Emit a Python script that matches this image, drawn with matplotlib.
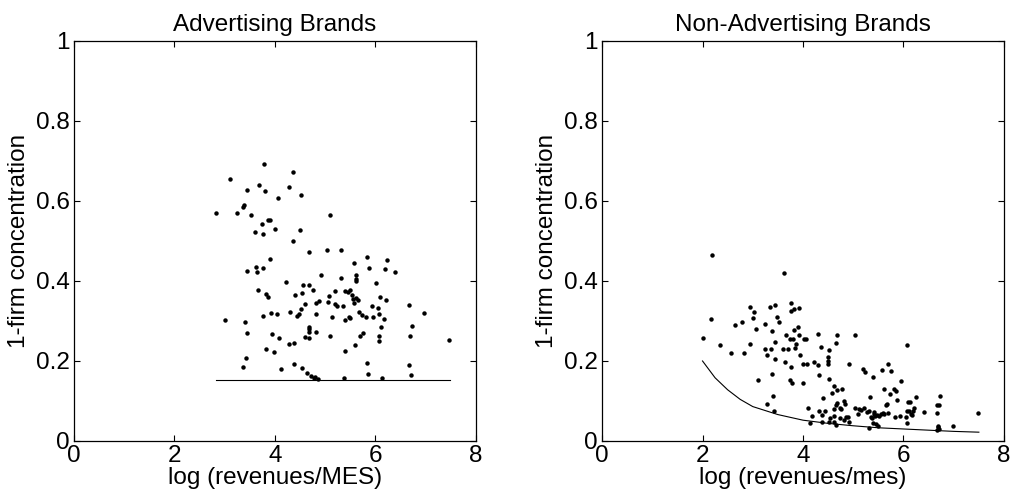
import numpy as np
import matplotlib
matplotlib.use("Agg")
import matplotlib.pyplot as plt

plt.rcParams['font.family'] = ['Liberation Sans', 'DejaVu Sans']

# advertising brands: log(revenues/MES) vs 1-firm concentration
adv_x = [2.83, 3.00, 3.10, 3.24, 3.36, 3.38, 3.36, 3.40, 3.42, 3.44, 3.45, 3.45, 3.52, 3.60,
         3.62, 3.64, 3.67, 3.69, 3.74, 3.77, 3.77, 3.77, 3.78, 3.80, 3.82, 3.83, 3.86, 3.86,
         3.90, 3.91, 3.92, 3.95, 3.99, 4.01, 4.05, 4.07, 4.09, 4.13, 4.23, 4.29, 4.29, 4.30,
         4.35, 4.36, 4.37, 4.38, 4.40, 4.44, 4.48, 4.50, 4.52, 4.52, 4.53, 4.54, 4.56, 4.60,
         4.60, 4.63, 4.68, 4.68, 4.68, 4.68, 4.68, 4.68, 4.72, 4.75, 4.77, 4.80, 4.82, 4.82,
         4.82, 4.85, 4.87, 4.91, 5.03, 5.05, 5.08, 5.09, 5.09, 5.14, 5.19, 5.20, 5.23, 5.31,
         5.32, 5.36, 5.37, 5.39, 5.39, 5.39, 5.45, 5.47, 5.49, 5.50, 5.54, 5.55, 5.57, 5.57,
         5.59, 5.61, 5.61, 5.62, 5.62, 5.66, 5.68, 5.70, 5.73, 5.75, 5.81, 5.83, 5.84, 5.86,
         5.88, 5.94, 5.95, 6.02, 6.06, 6.07, 6.08, 6.08, 6.10, 6.11, 6.14, 6.18, 6.20, 6.21,
         6.24, 6.39, 6.66, 6.67, 6.69, 6.71, 6.73, 6.97, 7.47]
adv_y = [0.571, 0.303, 0.656, 0.571, 0.584, 0.590, 0.186, 0.297, 0.207, 0.424, 0.628, 0.271,
         0.564, 0.522, 0.436, 0.423, 0.377, 0.640, 0.542, 0.518, 0.432, 0.313, 0.692, 0.624,
         0.367, 0.229, 0.361, 0.553, 0.553, 0.455, 0.320, 0.267, 0.222, 0.531, 0.317, 0.608,
         0.257, 0.180, 0.397, 0.636, 0.242, 0.322, 0.673, 0.500, 0.246, 0.192, 0.364, 0.313,
         0.317, 0.527, 0.616, 0.331, 0.370, 0.183, 0.389, 0.342, 0.261, 0.169, 0.472, 0.391,
         0.285, 0.279, 0.272, 0.258, 0.163, 0.377, 0.157, 0.160, 0.344, 0.318, 0.273, 0.155,
         0.349, 0.414, 0.477, 0.347, 0.363, 0.565, 0.263, 0.311, 0.374, 0.343, 0.337, 0.408,
         0.478, 0.338, 0.157, 0.376, 0.302, 0.226, 0.372, 0.311, 0.307, 0.377, 0.365, 0.355,
         0.445, 0.344, 0.240, 0.415, 0.357, 0.404, 0.399, 0.352, 0.322, 0.263, 0.315, 0.270,
         0.311, 0.461, 0.195, 0.167, 0.432, 0.337, 0.310, 0.395, 0.333, 0.317, 0.263, 0.250,
         0.360, 0.286, 0.157, 0.304, 0.431, 0.352, 0.452, 0.422, 0.341, 0.190, 0.263, 0.166,
         0.288, 0.320, 0.252]

# flat lower bound for advertising brands
adv_bound_x = [2.83, 7.48]
adv_bound_y = [0.152, 0.152]

# non-advertising brands
non_x = [2.00, 2.16, 2.18, 2.35, 2.57, 2.65, 2.78, 2.83, 2.94, 2.94, 3.01, 3.02, 3.06, 3.11,
         3.24, 3.25, 3.28, 3.29, 3.35, 3.36, 3.38, 3.38, 3.40, 3.42, 3.44, 3.45, 3.45, 3.48,
         3.53, 3.61, 3.62, 3.64, 3.67, 3.70, 3.74, 3.74, 3.77, 3.77, 3.77, 3.78, 3.81, 3.83,
         3.83, 3.85, 3.87, 3.91, 3.92, 3.92, 3.95, 3.99, 4.00, 4.01, 4.06, 4.07, 4.09, 4.13,
         4.17, 4.22, 4.29, 4.29, 4.31, 4.32, 4.36, 4.38, 4.38, 4.39, 4.44, 4.50, 4.50, 4.50,
         4.51, 4.52, 4.52, 4.53, 4.57, 4.61, 4.61, 4.62, 4.62, 4.66, 4.66, 4.66, 4.68, 4.68,
         4.68, 4.73, 4.73, 4.75, 4.78, 4.81, 4.82, 4.83, 4.85, 4.89, 4.91, 4.91, 5.03, 5.04,
         5.09, 5.12, 5.15, 5.19, 5.21, 5.24, 5.27, 5.31, 5.31, 5.33, 5.35, 5.37, 5.39, 5.39,
         5.41, 5.41, 5.44, 5.45, 5.47, 5.49, 5.52, 5.55, 5.57, 5.59, 5.61, 5.62, 5.65, 5.67,
         5.69, 5.70, 5.73, 5.76, 5.82, 5.84, 5.85, 5.88, 5.93, 5.95, 6.04, 6.06, 6.07, 6.07,
         6.08, 6.10, 6.12, 6.14, 6.17, 6.19, 6.21, 6.24, 6.40, 6.66, 6.67, 6.68, 6.68, 6.70,
         6.70, 6.67, 6.73, 6.98, 7.48]
non_y = [0.257, 0.304, 0.466, 0.240, 0.219, 0.291, 0.297, 0.220, 0.336, 0.242, 0.308, 0.322,
         0.280, 0.152, 0.292, 0.229, 0.214, 0.092, 0.334, 0.229, 0.275, 0.168, 0.113, 0.075,
         0.339, 0.247, 0.204, 0.310, 0.298, 0.230, 0.419, 0.197, 0.265, 0.230, 0.254, 0.152,
         0.344, 0.324, 0.186, 0.146, 0.254, 0.330, 0.278, 0.232, 0.242, 0.284, 0.333, 0.265,
         0.215, 0.192, 0.146, 0.254, 0.256, 0.192, 0.082, 0.045, 0.062, 0.197, 0.190, 0.267,
         0.074, 0.164, 0.236, 0.064, 0.048, 0.107, 0.075, 0.209, 0.200, 0.192, 0.227, 0.155,
         0.047, 0.058, 0.119, 0.138, 0.047, 0.080, 0.062, 0.244, 0.090, 0.041, 0.265, 0.128,
         0.095, 0.083, 0.057, 0.080, 0.131, 0.052, 0.101, 0.092, 0.061, 0.061, 0.192, 0.047,
         0.265, 0.083, 0.068, 0.080, 0.078, 0.179, 0.082, 0.172, 0.072, 0.076, 0.033, 0.110,
         0.061, 0.057, 0.160, 0.046, 0.072, 0.067, 0.062, 0.042, 0.066, 0.038, 0.062, 0.067,
         0.178, 0.071, 0.068, 0.129, 0.090, 0.092, 0.070, 0.192, 0.117, 0.175, 0.130, 0.060,
         0.126, 0.102, 0.062, 0.151, 0.059, 0.074, 0.239, 0.044, 0.098, 0.076, 0.098, 0.067,
         0.066, 0.076, 0.082, 0.109, 0.073, 0.069, 0.089, 0.038, 0.034, 0.090, 0.030, 0.027,
         0.113, 0.038, 0.070]

# lower bound curve for non-advertising brands
non_bound_x = [2.00, 2.25, 2.50, 2.75, 3.00, 3.50, 4.00, 4.50, 5.00, 5.50, 6.00, 6.50, 7.00, 7.50]
non_bound_y = [0.200, 0.158, 0.128, 0.104, 0.086, 0.066, 0.052, 0.044, 0.038, 0.033, 0.030,
               0.027, 0.024, 0.022]

x_ticks = [0, 2, 4, 6, 8]
y_ticks = [0, 0.2, 0.4, 0.6, 0.8, 1]
y_tick_labels = ['0', '0.2', '0.4', '0.6', '0.8', '1']

FS = 17.5


def setup_axes(ax, title, xlabel):
    ax.set_xlim(0, 8)
    ax.set_ylim(0, 1)
    ax.set_xticks(x_ticks)
    ax.set_xticklabels([str(t) for t in x_ticks])
    ax.set_yticks(y_ticks)
    ax.set_yticklabels(y_tick_labels)
    ax.tick_params(direction='in', top=True, right=True, length=4, width=0.8,
                   labelsize=FS, pad=3)
    for sp in ax.spines.values():
        sp.set_linewidth(0.9)
    ax.set_title(title, fontsize=FS, pad=7)
    ax.set_xlabel(xlabel, fontsize=FS, labelpad=0)
    ax.set_ylabel('1-firm concentration', fontsize=FS, labelpad=4)


fig = plt.figure(figsize=(10.13, 4.98), dpi=100)
ax1 = fig.add_axes([0.0730, 0.1145, 0.3968, 0.8032])
ax2 = fig.add_axes([0.5943, 0.1145, 0.3968, 0.8032])

ax1.plot(adv_x, adv_y, 'o', color='k', markersize=3.2, markeredgewidth=0)
ax1.plot(adv_bound_x, adv_bound_y, 'k-', linewidth=0.8)
setup_axes(ax1, 'Advertising Brands', 'log (revenues/MES)')

ax2.plot(non_x, non_y, 'o', color='k', markersize=3.2, markeredgewidth=0)
ax2.plot(non_bound_x, non_bound_y, 'k-', linewidth=0.8)
setup_axes(ax2, 'Non-Advertising Brands', 'log (revenues/mes)')

fig.savefig('out.png', dpi=100)
